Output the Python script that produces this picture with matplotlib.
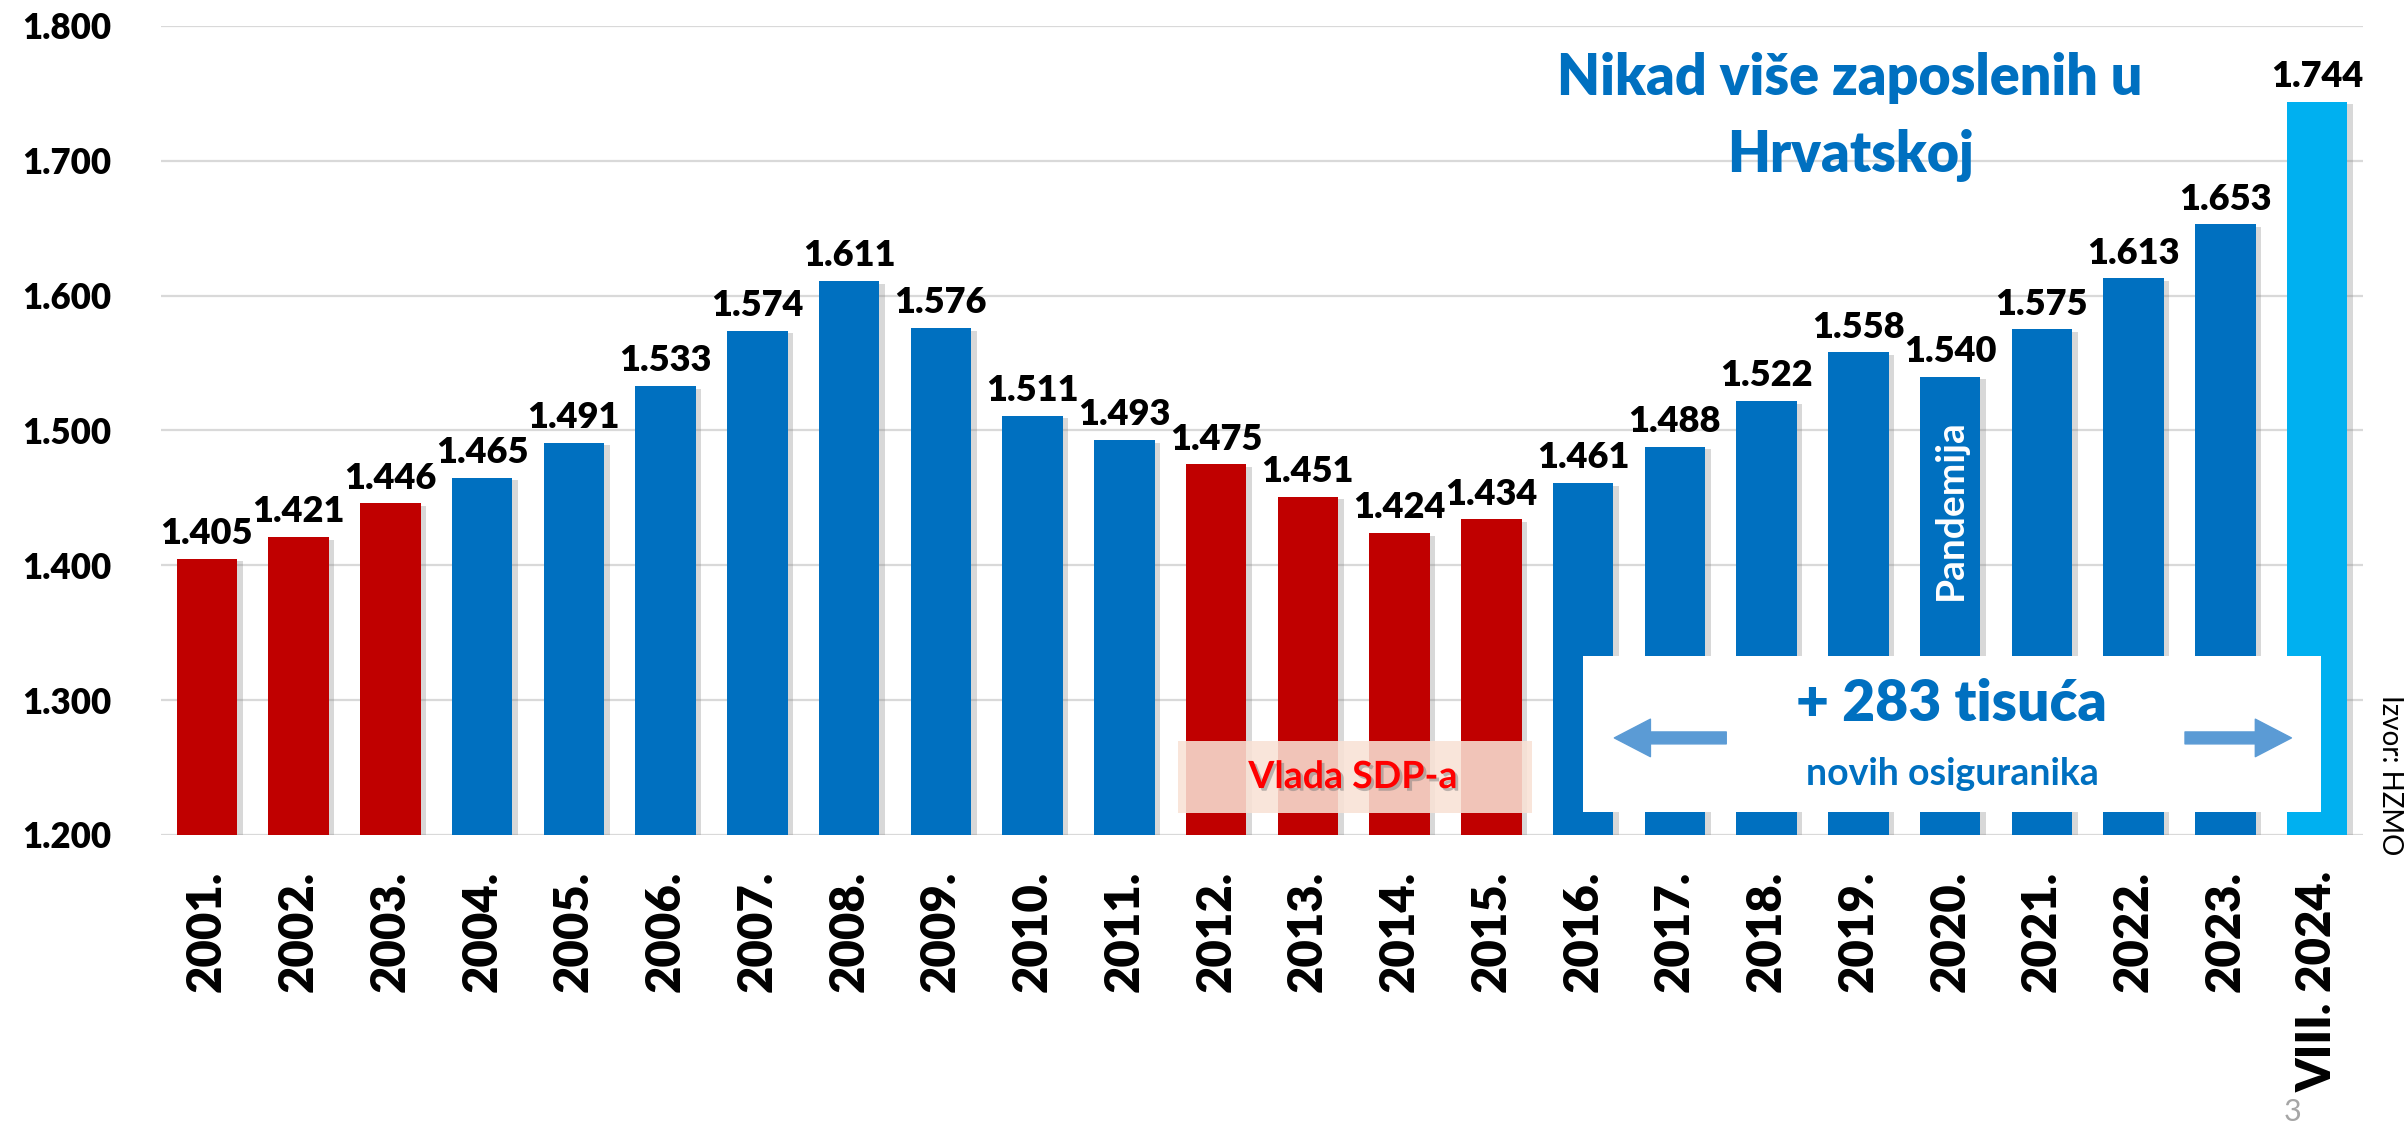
import matplotlib
matplotlib.use('Agg')
import matplotlib.pyplot as plt
import matplotlib.patheffects as pe
from matplotlib.patches import Rectangle

plt.rcParams['font.family'] = ['Lato', 'DejaVu Sans']

# broj osiguranika u tisućama
godine = ['2001.', '2002.', '2003.', '2004.', '2005.', '2006.', '2007.', '2008.',
          '2009.', '2010.', '2011.', '2012.', '2013.', '2014.', '2015.', '2016.',
          '2017.', '2018.', '2019.', '2020.', '2021.', '2022.', '2023.', 'VIII. 2024.']
osiguranici = [1405, 1421, 1446, 1465, 1491, 1533, 1574, 1611, 1576, 1511, 1493, 1475,
               1451, 1424, 1434, 1461, 1488, 1522, 1558, 1540, 1575, 1613, 1653, 1744]
sdp_godine = ['2001.', '2002.', '2003.', '2012.', '2013.', '2014.', '2015.']
y_ticks = [1200, 1300, 1400, 1500, 1600, 1700, 1800]

PLAVA = '#0070C0'
CRVENA = '#C00000'
SVIJETLA = '#00B0F0'
DEBLJINA = 'heavy'

def fmt(v):
    # 1405 -> "1.405"
    return '{:,}'.format(v).replace(',', '.')

fig = plt.figure(figsize=(24.07, 11.24), dpi=100)
ax = fig.add_axes([0.06689, 0.25712, 0.91483, 0.71975])

boje = []
for g in godine:
    if g in sdp_godine:
        boje.append(CRVENA)
    elif g.startswith('VIII'):
        boje.append(SVIJETLA)
    else:
        boje.append(PLAVA)

x = list(range(len(godine)))
bars = ax.bar(x, osiguranici, width=0.66, color=boje, zorder=3)
for b in bars:
    b.set_path_effects([pe.SimplePatchShadow(offset=(4, -2), shadow_rgbFace='#808080', alpha=0.3),
                        pe.Normal()])

for i, v in enumerate(osiguranici):
    ax.annotate(fmt(v), (i, v), xytext=(0, 10.5), textcoords='offset points',
                ha='center', va='baseline', fontsize=26, fontweight=DEBLJINA, color='black', zorder=6)

ax.set_xlim(-0.5, len(godine) - 0.5)
ax.set_ylim(1200, 1800)
ax.set_yticks(y_ticks)
ax.set_yticklabels([fmt(t) for t in y_ticks], fontsize=25, fontweight=DEBLJINA)
ax.set_xticks(x)
ax.set_xticklabels(godine, rotation=90, fontsize=34, fontweight=DEBLJINA, va='top')
ax.tick_params(axis='x', length=0, pad=26)
ax.tick_params(axis='y', length=0, pad=36)
ax.grid(axis='y', color='#D9D9D9', linewidth=1.6, zorder=0)
for s in ax.spines.values():
    s.set_visible(False)

# naslov
ax.text(17.91, 1749, 'Nikad više zaposlenih u', ha='center', va='baseline',
        fontsize=40, fontweight=DEBLJINA, color=PLAVA, zorder=7)
ax.text(17.91, 1692, 'Hrvatskoj', ha='center', va='baseline',
        fontsize=40, fontweight=DEBLJINA, color=PLAVA, zorder=7)

# pandemija
ax.text(19, 1441, 'Pandemija', rotation=90, ha='center', va='center',
        fontsize=28, fontweight='bold', color='white', zorder=6)

# vlada SDP-a
ax.add_patch(Rectangle((10.58, 1216), 3.86, 54, facecolor='#F9E2D5', alpha=0.87,
                       edgecolor='none', zorder=5))
ax.text(12.49, 1243, 'Vlada SDP-a', ha='center', va='center', fontsize=27,
        fontweight='bold', color='#FF0000', zorder=6,
        path_effects=[pe.withSimplePatchShadow(offset=(2, -2), shadow_rgbFace='#7F7F7F', alpha=0.5)])

# okvir s porukom
ax.add_patch(Rectangle((15.0, 1217), 8.04, 116, facecolor='white', edgecolor='none', zorder=5))
ax.text(19.01, 1297, '+ 283 tisuća', ha='center', va='center', fontsize=41,
        fontweight=DEBLJINA, color=PLAVA, zorder=6)
ax.text(19.03, 1245, 'novih osiguranika', ha='center', va='center', fontsize=27,
        fontweight='bold', color=PLAVA, zorder=6)
strelica = dict(arrowstyle='simple,head_length=26,head_width=27,tail_width=8.6',
                mutation_scale=1, color='#5B9BD5', shrinkA=0, shrinkB=0)
ax.annotate('', xy=(15.34, 1272), xytext=(16.56, 1272), arrowprops=strelica, zorder=6)
ax.annotate('', xy=(22.72, 1272), xytext=(21.56, 1272), arrowprops=strelica, zorder=6)

fig.text(0.993, 0.310, 'Izvor: HZMO', rotation=-90, ha='center', va='center',
         fontsize=20, color='black')
fig.text(0.9526, 0.0107, '3', ha='center', va='center', fontsize=22, color='#A6A6A6')

fig.savefig('out.png', dpi=100)
